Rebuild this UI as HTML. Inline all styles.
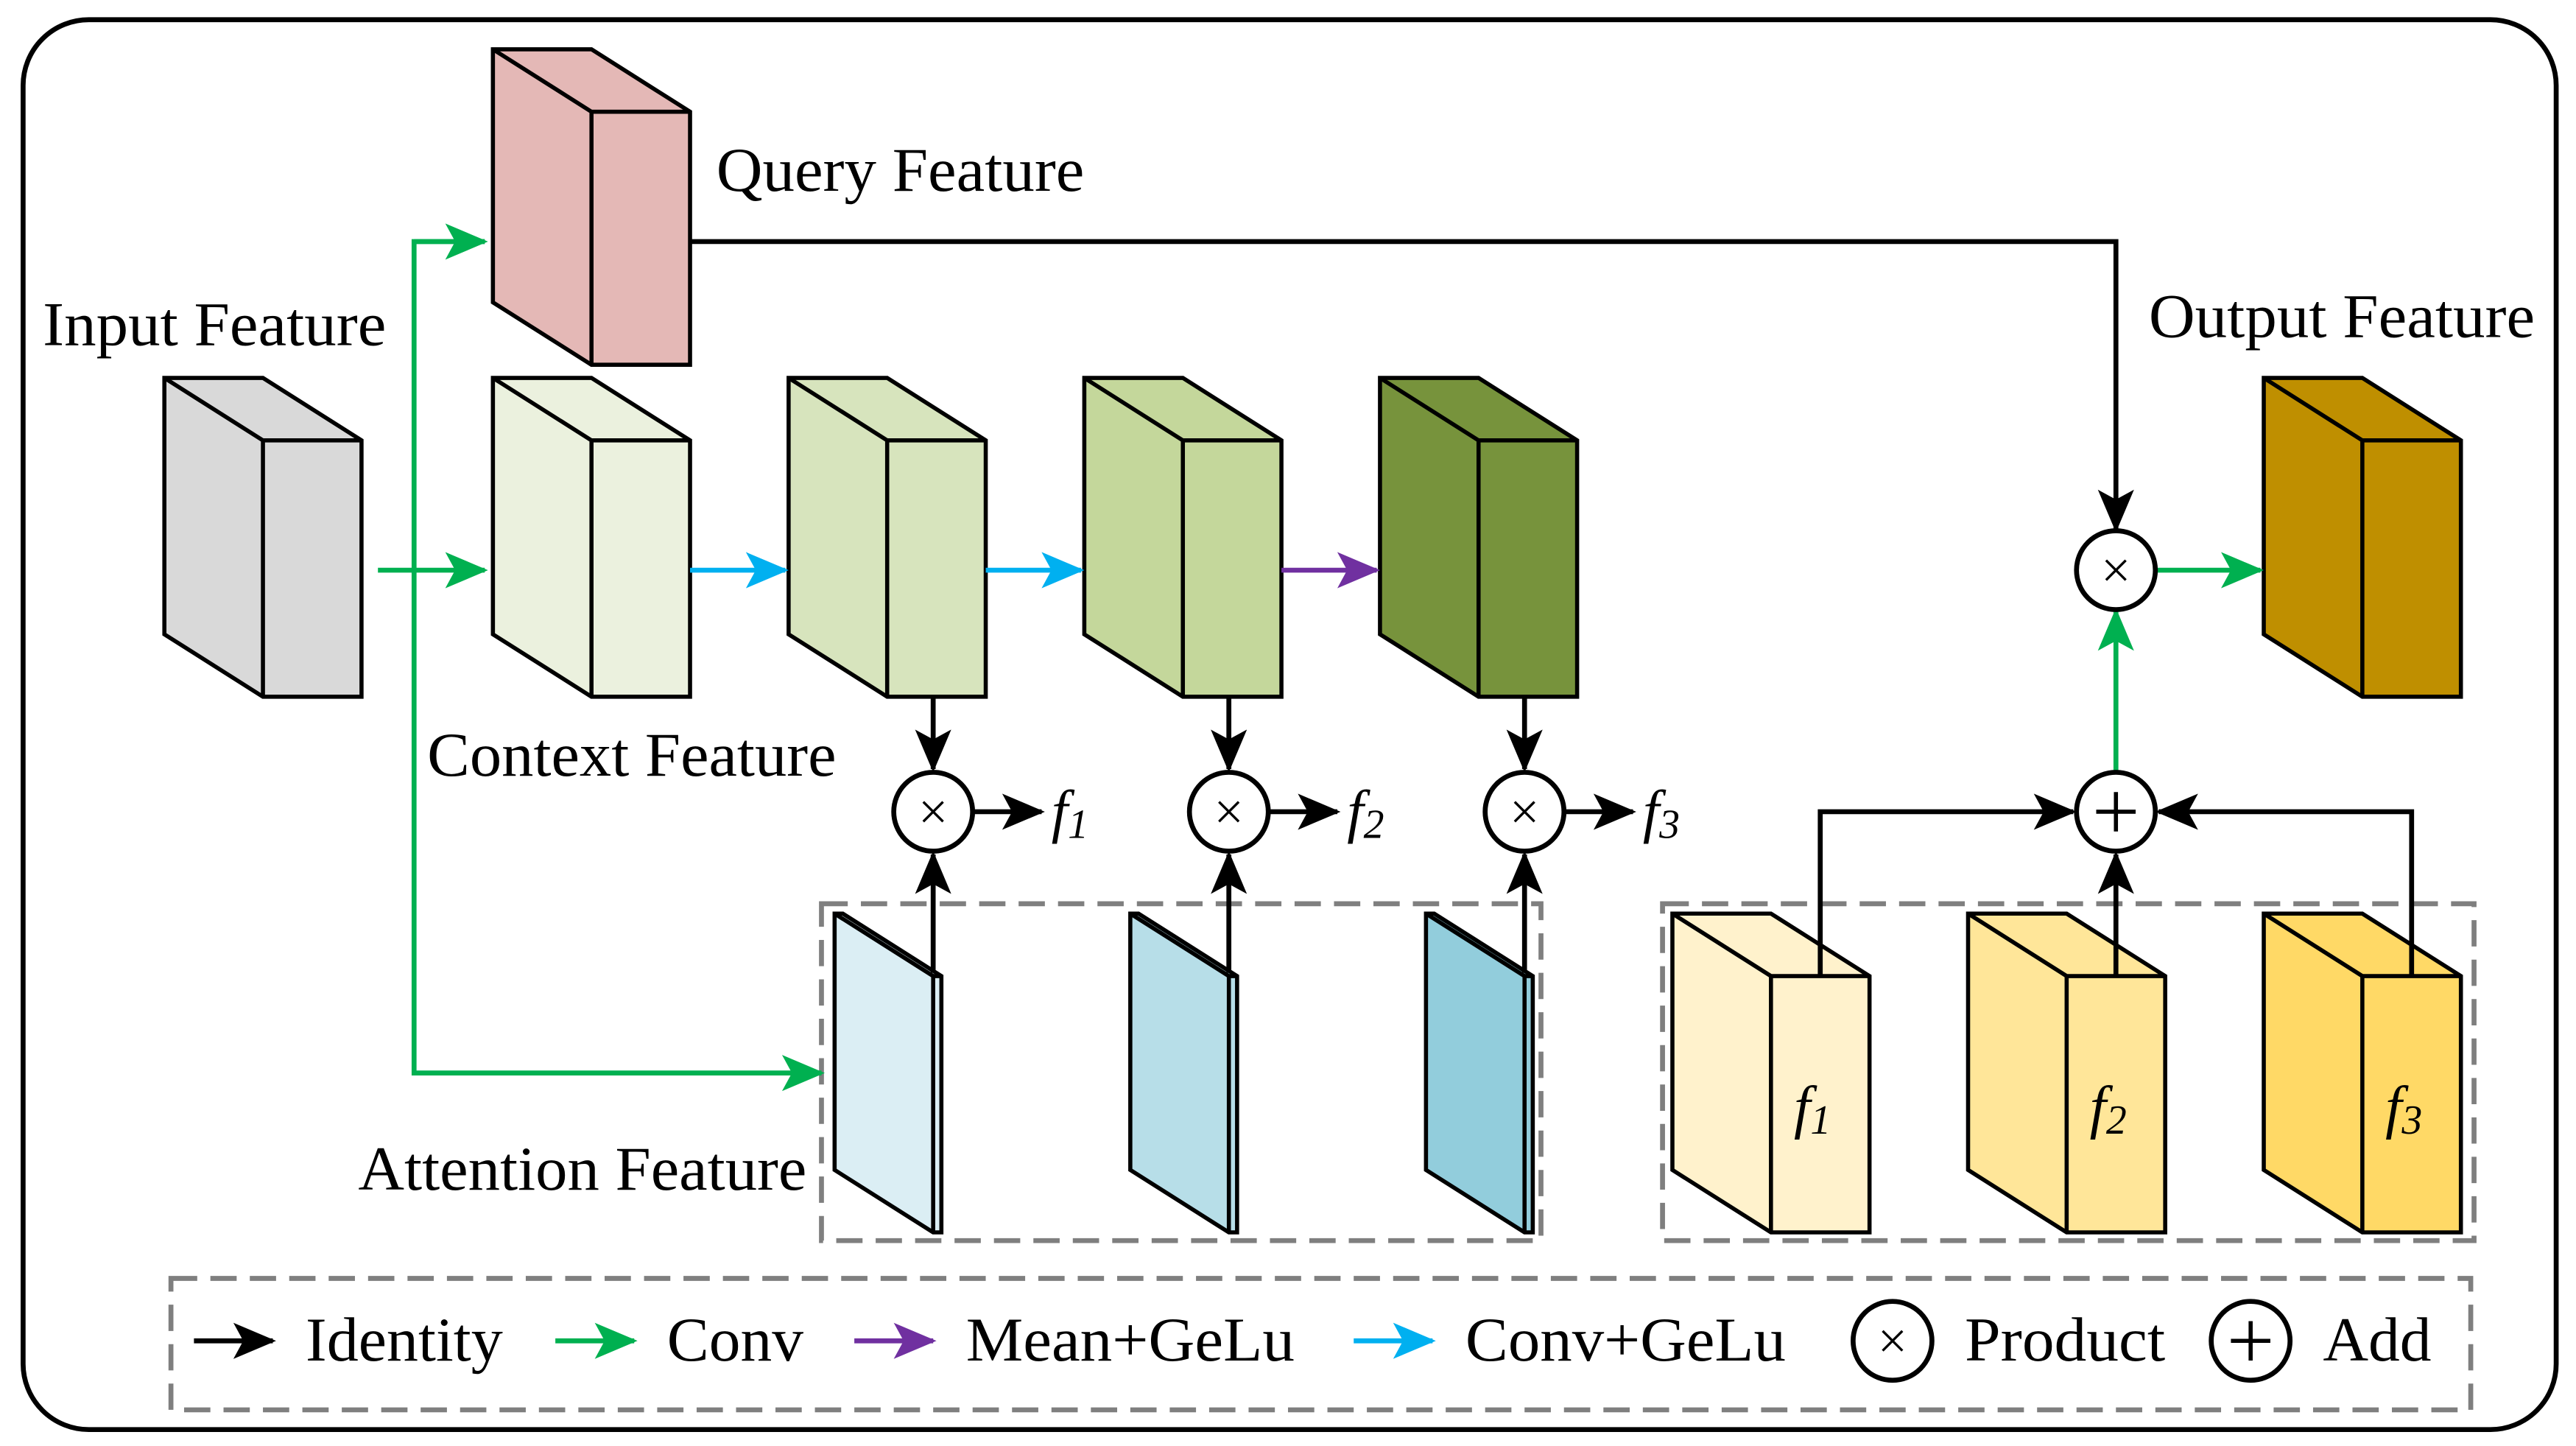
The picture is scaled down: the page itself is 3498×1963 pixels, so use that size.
<!DOCTYPE html>
<html><head><meta charset="utf-8"><style>html,body{margin:0;padding:0;background:#fff}svg{display:block}</style></head><body>
<svg width="3498" height="1963" viewBox="0 0 1568 880" xmlns="http://www.w3.org/2000/svg" font-family="Liberation Serif, serif">
<defs>
<marker id="ak" markerUnits="userSpaceOnUse" markerWidth="26" markerHeight="22" refX="24" refY="11" orient="auto"><path d="M0,0 L26,11 L0,22 L6,11 Z" fill="#000"/></marker>
<marker id="ag" markerUnits="userSpaceOnUse" markerWidth="26" markerHeight="22" refX="24" refY="11" orient="auto"><path d="M0,0 L26,11 L0,22 L6,11 Z" fill="#00b050"/></marker>
<marker id="ac" markerUnits="userSpaceOnUse" markerWidth="26" markerHeight="22" refX="24" refY="11" orient="auto"><path d="M0,0 L26,11 L0,22 L6,11 Z" fill="#00b0f0"/></marker>
<marker id="ap" markerUnits="userSpaceOnUse" markerWidth="26" markerHeight="22" refX="24" refY="11" orient="auto"><path d="M0,0 L26,11 L0,22 L6,11 Z" fill="#7030a0"/></marker>
</defs>
<rect x="14" y="12" width="1542" height="858" rx="40" fill="#fff" stroke="#000" stroke-width="3"/>
<g stroke="#000" stroke-width="2.5" stroke-linejoin="miter">
<g fill="#e4b8b6"><path d="M300,30 L360,30 L420,68 L420,222 L360,222 L300,184 Z"/><path d="M300,30 L360,68 L420,68 M360,68 L360,222" fill="none"/></g>
<g fill="#d9d9d9"><path d="M100,230 L160,230 L220,268 L220,424 L160,424 L100,386 Z"/><path d="M100,230 L160,268 L220,268 M160,268 L160,424" fill="none"/></g>
<g fill="#ebf1de"><path d="M300,230 L360,230 L420,268 L420,424 L360,424 L300,386 Z"/><path d="M300,230 L360,268 L420,268 M360,268 L360,424" fill="none"/></g>
<g fill="#d7e4bd"><path d="M480,230 L540,230 L600,268 L600,424 L540,424 L480,386 Z"/><path d="M480,230 L540,268 L600,268 M540,268 L540,424" fill="none"/></g>
<g fill="#c4d79b"><path d="M660,230 L720,230 L780,268 L780,424 L720,424 L660,386 Z"/><path d="M660,230 L720,268 L780,268 M720,268 L720,424" fill="none"/></g>
<g fill="#77933c"><path d="M840,230 L900,230 L960,268 L960,424 L900,424 L840,386 Z"/><path d="M840,230 L900,268 L960,268 M900,268 L900,424" fill="none"/></g>
<g fill="#bf8f00"><path d="M1378,230 L1438,230 L1498,268 L1498,424 L1438,424 L1378,386 Z"/><path d="M1378,230 L1438,268 L1498,268 M1438,268 L1438,424" fill="none"/></g>
<g fill="#fff2cc"><path d="M1018,556 L1078,556 L1138,594 L1138,750 L1078,750 L1018,712 Z"/><path d="M1018,556 L1078,594 L1138,594 M1078,594 L1078,750" fill="none"/></g>
<g fill="#ffe699"><path d="M1198,556 L1258,556 L1318,594 L1318,750 L1258,750 L1198,712 Z"/><path d="M1198,556 L1258,594 L1318,594 M1258,594 L1258,750" fill="none"/></g>
<g fill="#ffd966"><path d="M1378,556 L1438,556 L1498,594 L1498,750 L1438,750 L1378,712 Z"/><path d="M1378,556 L1438,594 L1498,594 M1438,594 L1438,750" fill="none"/></g>
<g fill="#dbeef4"><path d="M508,556 L513,556 L573,594 L573,750 L568,750 L508,712 Z"/><path d="M508,556 L568,594 L573,594 M568,594 L568,750" fill="none"/></g>
<g fill="#b7dee8"><path d="M688,556 L693,556 L753,594 L753,750 L748,750 L688,712 Z"/><path d="M688,556 L748,594 L753,594 M748,594 L748,750" fill="none"/></g>
<g fill="#92cddc"><path d="M868,556 L873,556 L933,594 L933,750 L928,750 L868,712 Z"/><path d="M868,556 L928,594 L933,594 M928,594 L928,750" fill="none"/></g>
</g>
<g fill="none" stroke="#7f7f7f" stroke-width="3" stroke-dasharray="16,8">
<rect x="500" y="550" width="438" height="205"/>
<rect x="1012" y="550" width="494" height="205"/>
<rect x="104" y="778" width="1400" height="80"/>
</g>
<g stroke="#00b050" stroke-width="3" fill="none">
<path d="M230,347 L295,347" marker-end="url(#ag)"/>
<path d="M295,147 L252,147 L252,653 L500,653" marker-end="url(#ag)"/>
<path d="M252,147 L295,147" marker-end="url(#ag)"/>
<path d="M1288,470 L1288,372" marker-end="url(#ag)"/>
<path d="M1312,347 L1376,347" marker-end="url(#ag)"/>
</g>
<g stroke="#00b0f0" stroke-width="3" fill="none">
<path d="M420,347 L478,347" marker-end="url(#ac)"/>
<path d="M600,347 L658,347" marker-end="url(#ac)"/>
</g>
<path d="M780,347 L838,347" stroke="#7030a0" stroke-width="3" marker-end="url(#ap)"/>
<g stroke="#000" stroke-width="3" fill="none">
<path d="M568,424 L568,468" marker-end="url(#ak)"/>
<path d="M748,424 L748,468" marker-end="url(#ak)"/>
<path d="M928,424 L928,468" marker-end="url(#ak)"/>
<path d="M568,592 L568,520" marker-end="url(#ak)"/>
<path d="M748,592 L748,520" marker-end="url(#ak)"/>
<path d="M928,592 L928,520" marker-end="url(#ak)"/>
<path d="M592,494 L634,494" marker-end="url(#ak)"/>
<path d="M772,494 L814,494" marker-end="url(#ak)"/>
<path d="M952,494 L994,494" marker-end="url(#ak)"/>
<path d="M420,147 L1288,147 L1288,322" marker-end="url(#ak)"/>
<path d="M1108,594 L1108,494 L1262,494" marker-end="url(#ak)"/>
<path d="M1288,594 L1288,520" marker-end="url(#ak)"/>
<path d="M1468,594 L1468,494 L1314,494" marker-end="url(#ak)"/>
</g>
<g stroke="#000" stroke-width="3" fill="#fff">
<circle cx="568" cy="494" r="24"/><circle cx="748" cy="494" r="24"/><circle cx="928" cy="494" r="24"/>
<circle cx="1288" cy="347" r="24"/><circle cx="1288" cy="494" r="24"/>
<circle cx="1152" cy="816" r="24"/><circle cx="1370" cy="816" r="24"/>
</g>
<g stroke="#000" stroke-width="1.5">
<path d="M562,488 L574,500 M574,488 L562,500"/><path d="M742,488 L754,500 M754,488 L742,500"/><path d="M922,488 L934,500 M934,488 L922,500"/>
<path d="M1282,341 L1294,353 M1294,341 L1282,353"/><path d="M1146,810 L1158,822 M1158,810 L1146,822"/>
</g>
<g stroke="#000" stroke-width="2.5"><path d="M1276,494 L1300,494 M1288,482 L1288,506"/><path d="M1358,816 L1382,816 M1370,804 L1370,828"/></g>
<path d="M118,816 L166,816" stroke="#000" stroke-width="3" marker-end="url(#ak)"/>
<path d="M338,816 L386,816" stroke="#00b050" stroke-width="3" marker-end="url(#ag)"/>
<path d="M520,816 L568,816" stroke="#7030a0" stroke-width="3" marker-end="url(#ap)"/>
<path d="M824,816 L872,816" stroke="#00b0f0" stroke-width="3" marker-end="url(#ac)"/>
<g font-size="38" fill="#000" lengthAdjust="spacingAndGlyphs">
<text x="436" y="116" textLength="224" lengthAdjust="spacingAndGlyphs">Query Feature</text>
<text x="26" y="210" textLength="209" lengthAdjust="spacingAndGlyphs">Input Feature</text>
<text x="1308" y="205" textLength="235" lengthAdjust="spacingAndGlyphs">Output Feature</text>
<text x="260" y="472" textLength="249" lengthAdjust="spacingAndGlyphs">Context Feature</text>
<text x="218" y="724" textLength="273" lengthAdjust="spacingAndGlyphs">Attention Feature</text>
<text x="186" y="828" textLength="120" lengthAdjust="spacingAndGlyphs">Identity</text>
<text x="406" y="828" textLength="83" lengthAdjust="spacingAndGlyphs">Conv</text>
<text x="588" y="828" textLength="200" lengthAdjust="spacingAndGlyphs">Mean+GeLu</text>
<text x="892" y="828" textLength="195" lengthAdjust="spacingAndGlyphs">Conv+GeLu</text>
<text x="1196" y="828" textLength="122" lengthAdjust="spacingAndGlyphs">Product</text>
<text x="1414" y="828" textLength="66" lengthAdjust="spacingAndGlyphs">Add</text>
</g>
<g font-size="36" font-style="italic" fill="#000">
<text x="640" y="506">f<tspan font-size="25" dy="4">1</tspan></text>
<text x="820" y="506">f<tspan font-size="25" dy="4">2</tspan></text>
<text x="1000" y="506">f<tspan font-size="25" dy="4">3</tspan></text>
<text x="1092" y="686">f<tspan font-size="25" dy="4">1</tspan></text>
<text x="1272" y="686">f<tspan font-size="25" dy="4">2</tspan></text>
<text x="1452" y="686">f<tspan font-size="25" dy="4">3</tspan></text>
</g>
</svg>
</body></html>
